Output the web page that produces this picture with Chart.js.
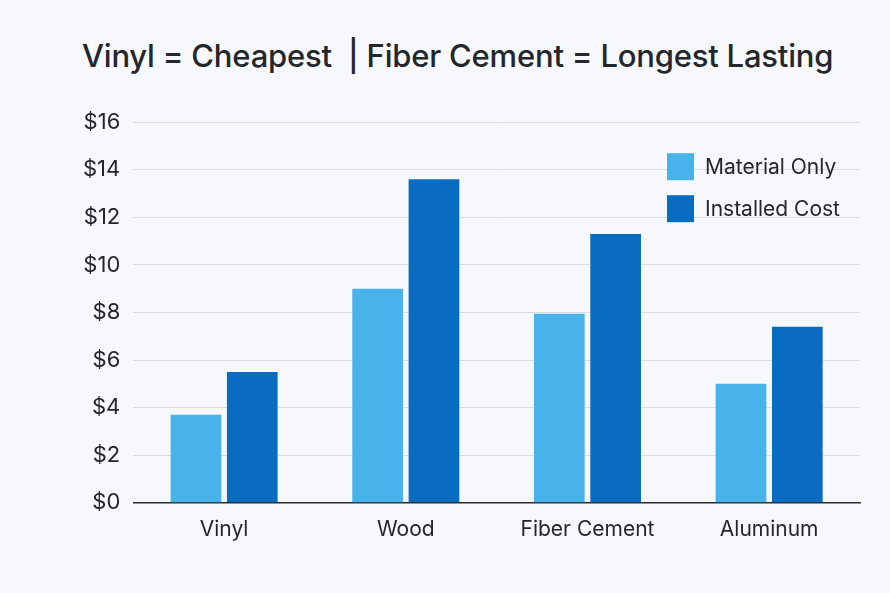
<!DOCTYPE html>
<html>
<head>
<meta charset="utf-8">
<script src="https://cdn.jsdelivr.net/npm/chart.js@4/dist/chart.umd.min.js"></script>
<style>
  html, body { margin: 0; padding: 0; background: #f6f8fb; }
  #wrap { width: 890px; height: 593px; position: relative; }
  h1 { position: absolute; left: 82px; top: 37px; margin: 0; font: 500 31px "Inter", "Noto Sans", sans-serif; color: #23262b; letter-spacing: -0.2px; white-space: nowrap; }
  #box { position: absolute; left: 70px; top: 96px; width: 800px; height: 452px; }
</style>
</head>
<body>
<div id="wrap">
  <h1>Vinyl = Cheapest &nbsp;| Fiber Cement = Longest Lasting</h1>
  <div id="box"><canvas id="c"></canvas></div>
</div>
<script>
const categories = ['Vinyl', 'Wood', 'Fiber Cement', 'Aluminum'];
const materialOnly = [3.7, 9.0, 7.95, 5.0];
const installedCost = [5.5, 13.6, 11.3, 7.4];
const seriesNames = ['Material Only', 'Installed Cost'];
const seriesColors = ['#48b2ea', '#0a6cc0'];

// legend drawn inside the plot, top right
const insideLegend = {
    id: 'insideLegend',
    afterDraw(chart) {
        const ctx = chart.ctx;
        const area = chart.chartArea;
        const x = area.right - 193;
        ctx.save();
        ctx.font = '21px "Inter", "Noto Sans", sans-serif';
        ctx.textBaseline = 'middle';
        chart.data.datasets.forEach((ds, i) => {
            const y = area.top + 31 + i * 42;
            ctx.fillStyle = ds.backgroundColor;
            ctx.fillRect(x, y, 27, 27);
            ctx.fillStyle = '#23262b';
            ctx.fillText(ds.label, x + 38, y + 14);
        });
        ctx.restore();
    }
};

new Chart(document.getElementById('c'), {
    type: 'bar',
    data: {
        labels: categories,
        datasets: [
            { label: seriesNames[0], data: materialOnly, backgroundColor: seriesColors[0] },
            { label: seriesNames[1], data: installedCost, backgroundColor: seriesColors[1] }
        ]
    },
    options: {
        responsive: true,
        maintainAspectRatio: false,
        animation: false,
        categoryPercentage: 0.62,
        barPercentage: 0.9,
        layout: { padding: { top: 14, right: 10 } },
        plugins: { legend: { display: false }, tooltip: { enabled: false } },
        scales: {
            x: {
                grid: { display: false },
                border: { color: '#2b2b2b', width: 1.5 },
                ticks: { color: '#23262b', font: { size: 21, family: 'Inter' }, padding: 6 }
            },
            y: {
                min: 0, max: 16,
                ticks: { stepSize: 2, color: '#23262b', font: { size: 22, family: 'Inter' }, padding: 13,
                    callback: v => '$' + v },
                grid: { color: '#d9dde3', drawTicks: false },
                border: { display: false }
            }
        }
    },
    plugins: [insideLegend]
});
</script>
</body>
</html>
